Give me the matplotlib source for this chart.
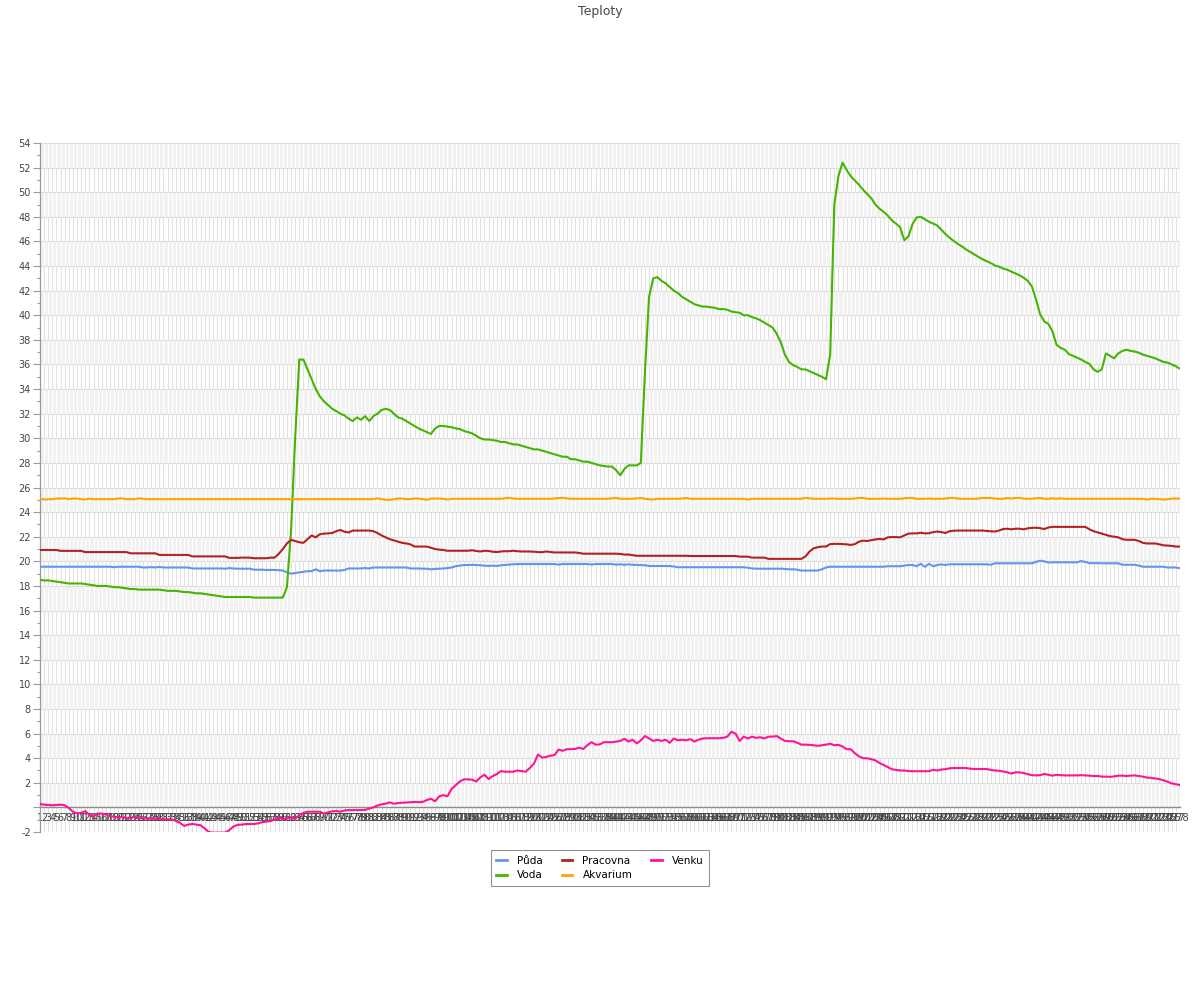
import numpy as np
import matplotlib
matplotlib.use("Agg")
import matplotlib.pyplot as plt

title = "Teploty"
series_names = ["Půda", "Voda", "Pracovna", "Akvarium", "Venku"]
series_colors = ["#6495ED", "#44B500", "#B22222", "#FFA500", "#FF1493"]

voda = [
    18.5, 18.45, 18.45, 18.4, 18.35, 18.3, 18.25, 18.2, 18.2, 18.2,
    18.2, 18.15, 18.1, 18.05, 18.0, 18.0, 18.0, 17.95, 17.9, 17.9,
    17.85, 17.8, 17.75, 17.75, 17.7, 17.7, 17.7, 17.7, 17.7, 17.7,
    17.65, 17.6, 17.6, 17.6, 17.55, 17.5, 17.5, 17.45, 17.4, 17.4,
    17.35, 17.3, 17.25, 17.2, 17.15, 17.1, 17.1, 17.1, 17.1, 17.1,
    17.1, 17.1, 17.05, 17.05, 17.05, 17.05, 17.05, 17.05, 17.05, 17.05,
    17.9, 22.5, 30.0, 36.4, 36.4, 35.6, 34.8, 34.0, 33.4, 33.0,
    32.7, 32.4, 32.2, 32.0, 31.85, 31.6, 31.4, 31.7, 31.5, 31.8,
    31.4, 31.8, 32.0, 32.3, 32.4, 32.3, 32.0, 31.7, 31.6, 31.4,
    31.2, 31.0, 30.8, 30.65, 30.5, 30.35, 30.8, 31.0, 31.0, 30.95,
    30.9, 30.8, 30.75, 30.6, 30.5, 30.4, 30.2, 30.0, 29.9, 29.9,
    29.85, 29.8, 29.7, 29.7, 29.6, 29.5, 29.5, 29.4, 29.3, 29.2,
    29.1, 29.1, 29.0, 28.9, 28.8, 28.7, 28.6, 28.5, 28.5, 28.3,
    28.3, 28.2, 28.1, 28.1, 28.0, 27.9, 27.8, 27.75, 27.7, 27.7,
    27.4, 27.0, 27.5, 27.8, 27.8, 27.8, 28.0, 35.5, 41.5, 43.0,
    43.1, 42.8, 42.6, 42.3, 42.0, 41.8, 41.5, 41.3, 41.1, 40.9,
    40.8, 40.7, 40.7, 40.65, 40.6, 40.5, 40.5, 40.45, 40.3, 40.25,
    40.2, 40.0, 40.0, 39.85, 39.75, 39.6, 39.4, 39.2, 39.0, 38.5,
    37.8, 36.8, 36.2, 35.95, 35.8, 35.6, 35.6, 35.45, 35.3, 35.15,
    35.0, 34.8, 36.8, 49.0, 51.3, 52.4, 51.8, 51.3, 50.95, 50.6,
    50.2, 49.85, 49.5, 49.0, 48.65, 48.4, 48.1, 47.7, 47.45, 47.15,
    46.1, 46.4, 47.4, 47.95, 48.0, 47.8, 47.6, 47.45, 47.3, 46.95,
    46.6, 46.3, 46.05, 45.8, 45.6, 45.35, 45.15, 44.95, 44.75, 44.55,
    44.4, 44.25, 44.05, 43.95, 43.8, 43.7, 43.55, 43.4, 43.25, 43.05,
    42.8, 42.35, 41.3, 40.1, 39.5, 39.3, 38.7, 37.6, 37.35, 37.2,
    36.85, 36.7, 36.55, 36.4, 36.2, 36.05, 35.6, 35.4, 35.6, 36.9,
    36.7, 36.5, 36.9, 37.1, 37.2, 37.1, 37.05, 36.95, 36.8, 36.7,
    36.6, 36.5, 36.35, 36.2, 36.15, 36.0, 35.85, 35.65,
]

puda = [
    19.56, 19.56, 19.56, 19.56, 19.56, 19.56, 19.56, 19.56, 19.56, 19.56,
    19.56, 19.56, 19.56, 19.56, 19.56, 19.56, 19.56, 19.56, 19.52, 19.56,
    19.56, 19.56, 19.56, 19.56, 19.56, 19.5, 19.5, 19.53, 19.5, 19.55,
    19.5, 19.5, 19.5, 19.5, 19.5, 19.5, 19.5, 19.42, 19.42, 19.42,
    19.42, 19.42, 19.42, 19.42, 19.42, 19.4, 19.45, 19.42, 19.4, 19.4,
    19.4, 19.4, 19.32, 19.32, 19.32, 19.3, 19.3, 19.3, 19.28, 19.25,
    19.1, 19.0, 19.05, 19.1, 19.15, 19.2, 19.2, 19.35, 19.2, 19.25,
    19.25, 19.25, 19.25, 19.25, 19.3, 19.42, 19.42, 19.42, 19.42, 19.45,
    19.42, 19.5, 19.5, 19.5, 19.5, 19.5, 19.5, 19.5, 19.5, 19.5,
    19.42, 19.42, 19.42, 19.4, 19.4, 19.35, 19.38, 19.4, 19.42, 19.45,
    19.5, 19.6, 19.65, 19.7, 19.7, 19.72, 19.7, 19.68, 19.65, 19.62,
    19.65, 19.62, 19.68, 19.7, 19.74, 19.76, 19.78, 19.78, 19.78, 19.78,
    19.78, 19.78, 19.78, 19.78, 19.78, 19.78, 19.73, 19.78, 19.78, 19.78,
    19.78, 19.78, 19.78, 19.78, 19.74, 19.78, 19.78, 19.78, 19.78, 19.78,
    19.73, 19.76, 19.72, 19.75, 19.72, 19.7, 19.7, 19.68, 19.62, 19.62,
    19.62, 19.62, 19.62, 19.62, 19.58, 19.52, 19.52, 19.52, 19.52, 19.52,
    19.52, 19.52, 19.52, 19.52, 19.52, 19.52, 19.52, 19.52, 19.52, 19.52,
    19.52, 19.52, 19.48, 19.42, 19.4, 19.4, 19.4, 19.4, 19.4, 19.4,
    19.4, 19.38, 19.35, 19.35, 19.32, 19.25, 19.25, 19.25, 19.25, 19.25,
    19.35, 19.5, 19.56, 19.56, 19.56, 19.56, 19.56, 19.56, 19.56, 19.56,
    19.56, 19.56, 19.56, 19.56, 19.56, 19.56, 19.6, 19.6, 19.6, 19.6,
    19.65, 19.7, 19.7, 19.6, 19.8, 19.55, 19.8, 19.6, 19.7, 19.75,
    19.7, 19.76, 19.76, 19.76, 19.76, 19.76, 19.76, 19.76, 19.76, 19.76,
    19.76, 19.72, 19.84, 19.84, 19.84, 19.84, 19.84, 19.84, 19.84, 19.84,
    19.84, 19.84, 19.95, 20.05, 20.0, 19.9, 19.92, 19.92, 19.92, 19.92,
    19.92, 19.92, 19.92, 20.02, 19.95, 19.85, 19.85, 19.85, 19.84, 19.84,
    19.84, 19.84, 19.84, 19.72, 19.72, 19.72, 19.72, 19.65, 19.56, 19.56,
    19.56, 19.56, 19.56, 19.56, 19.5, 19.5, 19.5, 19.43,
]

pracovna = [
    20.92, 20.92, 20.92, 20.92, 20.92, 20.85, 20.85, 20.85, 20.85, 20.85,
    20.85, 20.75, 20.75, 20.75, 20.75, 20.75, 20.75, 20.75, 20.75, 20.75,
    20.75, 20.75, 20.65, 20.65, 20.65, 20.65, 20.65, 20.65, 20.65, 20.52,
    20.52, 20.52, 20.52, 20.52, 20.52, 20.52, 20.52, 20.4, 20.4, 20.4,
    20.4, 20.4, 20.4, 20.4, 20.4, 20.4, 20.28, 20.28, 20.28, 20.3,
    20.3, 20.3, 20.25, 20.25, 20.25, 20.25, 20.3, 20.3, 20.6, 21.0,
    21.45, 21.75, 21.65, 21.55, 21.5, 21.8, 22.1, 21.95, 22.2, 22.25,
    22.27, 22.3, 22.45, 22.55, 22.4, 22.35, 22.5, 22.5, 22.5, 22.5,
    22.5, 22.45, 22.3, 22.1, 21.95, 21.8, 21.7, 21.6, 21.5, 21.45,
    21.38, 21.2, 21.2, 21.2, 21.2, 21.1, 21.0, 20.95, 20.92, 20.86,
    20.86, 20.86, 20.86, 20.86, 20.86, 20.9, 20.84, 20.8, 20.86, 20.84,
    20.78, 20.75, 20.8, 20.82, 20.82, 20.86, 20.82, 20.8, 20.8, 20.8,
    20.78, 20.75, 20.74, 20.8, 20.76, 20.72, 20.72, 20.72, 20.72, 20.72,
    20.72, 20.68, 20.62, 20.62, 20.62, 20.62, 20.62, 20.62, 20.62, 20.62,
    20.62, 20.6, 20.55, 20.55, 20.5, 20.45, 20.45, 20.45, 20.45, 20.45,
    20.45, 20.45, 20.45, 20.45, 20.45, 20.45, 20.45, 20.45, 20.43, 20.43,
    20.43, 20.43, 20.43, 20.43, 20.43, 20.43, 20.43, 20.43, 20.43, 20.43,
    20.38, 20.38, 20.38, 20.3, 20.3, 20.3, 20.3, 20.2, 20.2, 20.2,
    20.2, 20.2, 20.2, 20.2, 20.2, 20.2, 20.4, 20.8, 21.06, 21.15,
    21.2, 21.2, 21.4, 21.42, 21.42, 21.4, 21.38, 21.33, 21.4, 21.6,
    21.68, 21.65, 21.72, 21.78, 21.82, 21.78, 21.95, 21.97, 21.97, 21.95,
    22.1, 22.25, 22.27, 22.27, 22.32, 22.27, 22.28, 22.37, 22.42, 22.38,
    22.3, 22.45, 22.49, 22.5, 22.5, 22.5, 22.5, 22.5, 22.5, 22.5,
    22.47, 22.44, 22.42, 22.5, 22.62, 22.65, 22.6, 22.65, 22.65, 22.6,
    22.68, 22.72, 22.73, 22.7, 22.62, 22.75, 22.8, 22.8, 22.8, 22.8,
    22.8, 22.8, 22.8, 22.8, 22.8, 22.6, 22.45, 22.35, 22.25, 22.15,
    22.05, 22.0, 21.95, 21.8, 21.75, 21.75, 21.75, 21.65, 21.5, 21.45,
    21.45, 21.45, 21.38, 21.3, 21.28, 21.25, 21.2, 21.2,
]

akvarium = [
    25.1, 25.02, 25.05, 25.05, 25.1, 25.1, 25.12, 25.05, 25.1, 25.1,
    25.05, 25.02, 25.1, 25.05, 25.05, 25.05, 25.05, 25.05, 25.05, 25.1,
    25.12, 25.05, 25.05, 25.05, 25.12, 25.08, 25.05, 25.05, 25.05, 25.05,
    25.05, 25.05, 25.05, 25.05, 25.05, 25.05, 25.05, 25.05, 25.05, 25.05,
    25.05, 25.05, 25.05, 25.05, 25.05, 25.05, 25.05, 25.05, 25.05, 25.05,
    25.05, 25.05, 25.05, 25.05, 25.05, 25.05, 25.05, 25.05, 25.05, 25.05,
    25.05, 25.05, 25.05, 25.05, 25.05, 25.05, 25.05, 25.05, 25.05, 25.05,
    25.05, 25.05, 25.05, 25.05, 25.05, 25.05, 25.05, 25.05, 25.05, 25.05,
    25.05, 25.05, 25.12, 25.05, 25.0, 25.0, 25.05, 25.1, 25.1, 25.05,
    25.05, 25.1, 25.1, 25.05, 25.0, 25.1, 25.1, 25.1, 25.08, 25.02,
    25.08, 25.08, 25.08, 25.08, 25.08, 25.08, 25.08, 25.08, 25.08, 25.08,
    25.08, 25.08, 25.08, 25.12, 25.16, 25.1, 25.08, 25.08, 25.08, 25.08,
    25.08, 25.08, 25.08, 25.08, 25.08, 25.1, 25.14, 25.16, 25.12, 25.08,
    25.08, 25.08, 25.08, 25.08, 25.08, 25.08, 25.08, 25.08, 25.08, 25.12,
    25.15, 25.08, 25.08, 25.08, 25.08, 25.12, 25.15, 25.08, 25.05, 25.02,
    25.08, 25.08, 25.08, 25.08, 25.08, 25.08, 25.1, 25.15, 25.08, 25.08,
    25.08, 25.08, 25.08, 25.08, 25.08, 25.08, 25.08, 25.08, 25.08, 25.08,
    25.08, 25.08, 25.02, 25.08, 25.08, 25.08, 25.08, 25.08, 25.08, 25.08,
    25.08, 25.08, 25.08, 25.08, 25.08, 25.08, 25.15, 25.12, 25.08, 25.08,
    25.08, 25.08, 25.1, 25.1, 25.08, 25.08, 25.08, 25.08, 25.1, 25.15,
    25.15, 25.08, 25.08, 25.08, 25.08, 25.1, 25.08, 25.08, 25.08, 25.08,
    25.12, 25.15, 25.15, 25.08, 25.08, 25.08, 25.1, 25.08, 25.08, 25.08,
    25.1, 25.15, 25.15, 25.1, 25.08, 25.08, 25.08, 25.08, 25.1, 25.15,
    25.15, 25.15, 25.1, 25.08, 25.08, 25.15, 25.1, 25.15, 25.15, 25.1,
    25.08, 25.08, 25.12, 25.15, 25.08, 25.08, 25.12, 25.08, 25.12, 25.08,
    25.08, 25.08, 25.08, 25.08, 25.08, 25.08, 25.08, 25.08, 25.08, 25.08,
    25.08, 25.08, 25.08, 25.08, 25.08, 25.08, 25.08, 25.08, 25.08, 25.02,
    25.08, 25.08, 25.05, 25.02, 25.05, 25.1, 25.1, 25.1,
]

venku = [
    0.28, 0.22, 0.2, 0.17, 0.2, 0.22, 0.18, -0.05, -0.35, -0.48,
    -0.45, -0.3, -0.6, -0.72, -0.5, -0.5, -0.58, -0.72, -0.75, -0.8,
    -0.8, -0.85, -0.88, -0.75, -0.88, -0.9, -0.88, -0.9, -0.92, -0.95,
    -0.97, -0.97, -0.98, -1.1, -1.25, -1.5, -1.4, -1.35, -1.4, -1.45,
    -1.7, -2.0, -2.05, -2.05, -2.05, -2.05, -1.85, -1.55, -1.42, -1.4,
    -1.36, -1.35, -1.35, -1.3, -1.2, -1.15, -1.12, -1.0, -0.8, -0.97,
    -0.9, -0.8, -0.95, -0.6, -0.45, -0.35, -0.35, -0.35, -0.35, -0.5,
    -0.4, -0.32, -0.3, -0.35, -0.25, -0.22, -0.22, -0.22, -0.22, -0.2,
    -0.1, 0.0, 0.15, 0.25, 0.3, 0.41, 0.3, 0.35, 0.38, 0.4,
    0.42, 0.45, 0.42, 0.45, 0.6, 0.7, 0.5, 0.9, 1.0, 0.9,
    1.5, 1.8, 2.1, 2.28, 2.28, 2.25, 2.1, 2.45, 2.65, 2.3,
    2.55, 2.7, 2.95, 2.9, 2.9, 2.9, 3.0, 2.95, 2.9, 3.2,
    3.55, 4.3, 4.05, 4.1, 4.2, 4.25, 4.7, 4.6, 4.73, 4.73,
    4.75, 4.85, 4.75, 5.05, 5.3, 5.1, 5.12, 5.3, 5.3, 5.3,
    5.35, 5.4, 5.58, 5.35, 5.5, 5.2, 5.45, 5.8, 5.6, 5.4,
    5.5, 5.4, 5.5, 5.25, 5.6, 5.45, 5.5, 5.45, 5.55, 5.35,
    5.5, 5.6, 5.62, 5.62, 5.62, 5.62, 5.65, 5.75, 6.15, 6.0,
    5.4, 5.75, 5.6, 5.75, 5.65, 5.7, 5.6, 5.75, 5.75, 5.8,
    5.6, 5.4, 5.38, 5.38, 5.25, 5.1, 5.1, 5.08, 5.05, 5.0,
    5.05, 5.1, 5.18, 5.05, 5.08, 4.95, 4.73, 4.73, 4.4, 4.15,
    4.0, 3.99, 3.92, 3.82, 3.6, 3.45, 3.28, 3.1, 3.05, 3.0,
    3.0, 2.95, 2.94, 2.94, 2.94, 2.94, 2.94, 3.05, 3.0, 3.08,
    3.1, 3.18, 3.2, 3.2, 3.2, 3.2, 3.15, 3.12, 3.12, 3.12,
    3.12, 3.05, 3.0, 2.98, 2.92, 2.85, 2.75, 2.85, 2.85, 2.8,
    2.7, 2.62, 2.6, 2.62, 2.72, 2.65, 2.58, 2.65, 2.62, 2.6,
    2.6, 2.6, 2.6, 2.62, 2.6, 2.58, 2.55, 2.55, 2.5, 2.5,
    2.48, 2.52, 2.58, 2.58, 2.55, 2.58, 2.6, 2.55, 2.5, 2.42,
    2.4, 2.35, 2.3, 2.2, 2.08, 1.95, 1.88, 1.82,
]

n = len(voda)
categories = [str(k) for k in range(1, n + 1)]
for name, s in zip(series_names, [puda, voda, pracovna, akvarium, venku]):
    if len(s) != n:
        raise SystemExit(f"length mismatch {name}: {len(s)} vs {n}")

y_min, y_max = -2, 54

fig = plt.figure(figsize=(12, 10), dpi=100)
ax = fig.add_axes([40 / 1200, 1 - 832 / 1000, 1140 / 1200, 689 / 1000])
ax.set_xlim(0, n - 1)
ax.set_ylim(y_min, y_max)

x = np.arange(n)
# alternating horizontal bands
band_gray = "#f2f2f2"
gray_starts = np.arange(0, y_max, 4)
white_starts = np.arange(-2, y_max, 4)
for b in gray_starts:
    ax.axhspan(b, b + 2, color=band_gray, lw=0, zorder=0)
# vertical grid lines: white over gray bands, light gray over white bands
xs_g = np.repeat(x, len(gray_starts))
ax.vlines(xs_g, np.tile(gray_starts, n), np.tile(gray_starts + 2, n),
          colors="white", lw=0.8, zorder=0.5)
xs_w = np.repeat(x, len(white_starts))
ax.vlines(xs_w, np.tile(white_starts, n), np.tile(white_starts + 2, n),
          colors="#e2e2e2", lw=0.8, zorder=0.5)
# horizontal grid lines
for yv in range(y_min, y_max + 1, 2):
    ax.axhline(yv, color="#dedede", lw=0.8, zorder=0.6)

data = [puda, voda, pracovna, akvarium, venku]
for name, col, s in zip(series_names, series_colors, data):
    ax.plot(x, s, color=col, lw=1.5, label=name, zorder=3, solid_joinstyle="round")

# axes styling
for sp in ["top", "right"]:
    ax.spines[sp].set_visible(False)
ax.spines["left"].set_color("#9a9a9a")
ax.spines["left"].set_linewidth(0.9)
ax.spines["bottom"].set_position(("data", 0))
ax.spines["bottom"].set_color("#8c8c8c")
ax.spines["bottom"].set_linewidth(1.0)
ax.spines["bottom"].set_zorder(2)

yt = list(range(y_min, y_max + 1, 2))
ax.set_yticks(yt)
ax.set_yticklabels(["" if v == 0 else str(v) for v in yt])
ax.set_yticks(list(range(y_min + 1, y_max, 2)), minor=True)
ax.tick_params(axis="y", which="major", length=5, width=0.8, color="#9a9a9a",
               labelsize=7, labelcolor="#444444", pad=1.5)
ax.tick_params(axis="y", which="minor", length=2.5, width=0.8, color="#9a9a9a")

ax.set_xticks(x)
ax.set_xticklabels(categories)
ax.tick_params(axis="x", which="major", length=0, labelsize=7,
               labelcolor="#444444", pad=4)

fig.text(0.5, 1 - 11 / 1000, title, ha="center", va="center",
         fontsize=9, color="#444444")

handles, labels = ax.get_legend_handles_labels()
leg = fig.legend(handles, labels, loc="center", bbox_to_anchor=(0.5, 1 - 868 / 1000),
                 ncol=3, fontsize=7.5, frameon=True, fancybox=False,
                 edgecolor="#777777", handlelength=1.0, handletextpad=1.0,
                 columnspacing=1.8, borderpad=0.5, labelspacing=0.45)
leg.get_frame().set_linewidth(0.8)
for line in leg.get_lines():
    line.set_linewidth(2)

fig.savefig("out.png", dpi=100)
